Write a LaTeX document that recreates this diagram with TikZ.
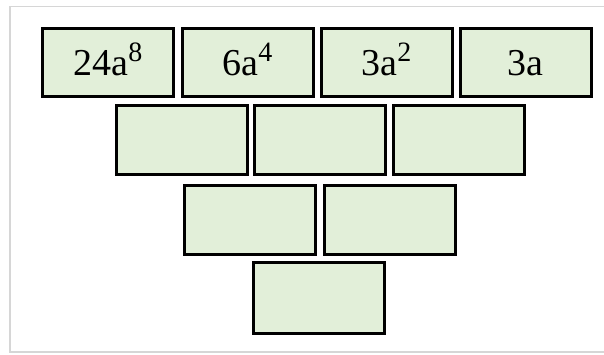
\documentclass[tikz,border=0pt]{standalone}
\usepackage{fontspec}
\setmainfont{Liberation Serif}
\definecolor{boxgreen}{HTML}{E2EFD9}
\definecolor{framegray}{HTML}{D6D6D6}
\newcommand\supx[1]{\raisebox{14pt}{\fontsize{28}{30}\selectfont #1}}
\begin{document}
\begin{tikzpicture}[x=1pt,y=-1pt,
  brick/.style={draw=black, fill=boxgreen, line width=3pt, minimum width=131pt,
    minimum height=68pt, inner sep=0pt, text height=26pt, text depth=0pt,
    font=\fontsize{38}{40}\selectfont},
  frame/.style={draw=framegray, line width=1.5pt}]
\useasboundingbox (0,0) rectangle (604,354);
\clip (0,0) rectangle (604,354);
\draw[frame] (10,6.5) rectangle (640,352);
% row 1
\node[brick] (r1a) at (108,62)   {24a\supx{8}};
\node[brick] (r1b) at (247.5,62) {6a\supx{4}};
\node[brick] (r1c) at (386.5,62) {3a\supx{2}};
\node[brick] (r1d) at (525.5,62) {3a};
% row 2
\node[brick, minimum height=69pt] (r2a) at (182,140) {};
\node[brick, minimum height=69pt] (r2b) at (320,140) {};
\node[brick, minimum height=69pt] (r2c) at (459,140) {};
% row 3
\node[brick, minimum height=69pt] (r3a) at (250,220) {};
\node[brick, minimum height=69pt] (r3b) at (389.5,220) {};
% row 4
\node[brick, minimum height=71pt] (r4a) at (318.5,298) {};
\end{tikzpicture}
\end{document}
